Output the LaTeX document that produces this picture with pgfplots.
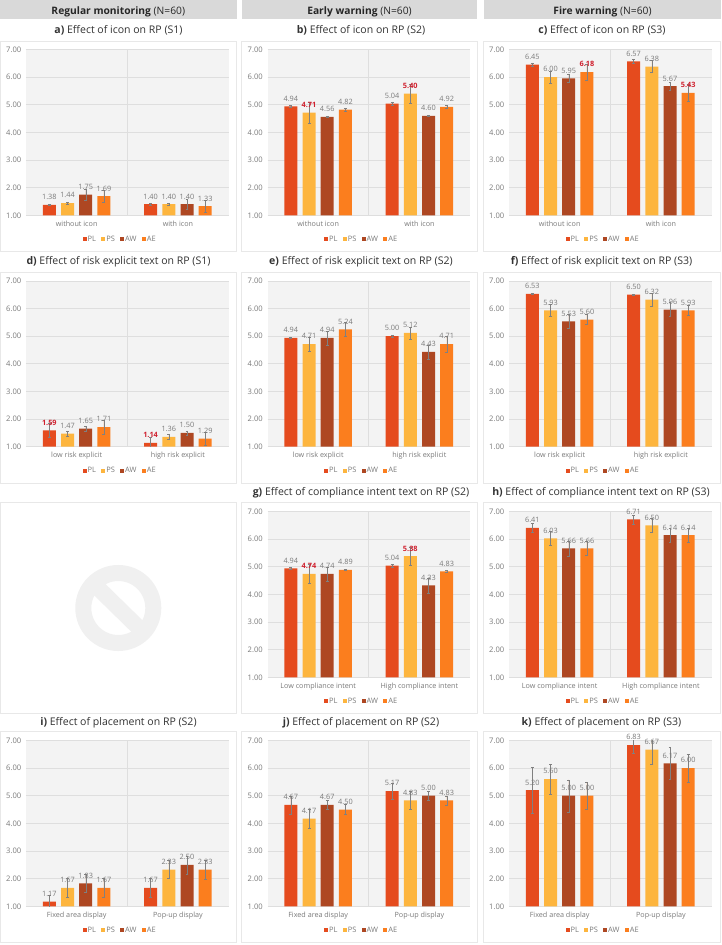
\documentclass[border=0pt]{standalone}
\usepackage{fontspec}
\setmainfont{Open Sans}
\usepackage{pgfplots}
\usepackage{pgfplotstable}
\pgfplotsset{compat=1.18}

\definecolor{cPL}{HTML}{E54B1E}
\definecolor{cPS}{HTML}{FDB53E}
\definecolor{cAW}{HTML}{AE4722}
\definecolor{cAE}{HTML}{FB7E1E}
\definecolor{hotred}{HTML}{D0202E}
\definecolor{txtgray}{HTML}{7A7A7A}
\definecolor{band}{HTML}{D9D9D9}
\definecolor{edgec}{HTML}{E8E8E8}
\definecolor{plotbg}{HTML}{F3F3F3}
\definecolor{gridc}{HTML}{DEDEDE}

\pgfplotstableread{
x PL PLe PS PSe AW AWe AE AEe
0 1.38 0.02 1.44 0.03 1.75 0.19 1.69 0.20
1 1.40 0.02 1.40 0.03 1.40 0.18 1.33 0.20
}\tabA
\pgfplotstableread{
x PL PLe PS PSe AW AWe AE AEe
0 4.94 0.03 4.71 0.37 4.56 0.02 4.82 0.05
1 5.04 0.05 5.40 0.35 4.60 0.02 4.92 0.06
}\tabB
\pgfplotstableread{
x PL PLe PS PSe AW AWe AE AEe
0 6.45 0.06 6.00 0.22 5.95 0.15 6.18 0.30
1 6.57 0.07 6.38 0.22 5.67 0.15 5.43 0.31
}\tabC
\pgfplotstableread{
x PL PLe PS PSe AW AWe AE AEe
0 1.59 0.25 1.47 0.10 1.65 0.08 1.71 0.25
1 1.14 0.20 1.36 0.08 1.50 0.07 1.29 0.25
}\tabD
\pgfplotstableread{
x PL PLe PS PSe AW AWe AE AEe
0 4.94 0.03 4.71 0.25 4.94 0.25 5.24 0.25
1 5.00 0.03 5.12 0.22 4.43 0.25 4.71 0.28
}\tabE
\pgfplotstableread{
x PL PLe PS PSe AW AWe AE AEe
0 6.53 0.02 5.93 0.22 5.53 0.25 5.60 0.18
1 6.50 0.02 6.32 0.22 5.96 0.25 5.93 0.18
}\tabF
\pgfplotstableread{
x PL PLe PS PSe AW AWe AE AEe
0 4.94 0.03 4.74 0.35 4.74 0.25 4.89 0.02
1 5.04 0.04 5.38 0.33 4.33 0.27 4.83 0.03
}\tabG
\pgfplotstableread{
x PL PLe PS PSe AW AWe AE AEe
0 6.41 0.17 6.03 0.25 5.66 0.28 5.66 0.25
1 6.71 0.17 6.50 0.25 6.14 0.25 6.14 0.27
}\tabH
\pgfplotstableread{
x PL PLe PS PSe AW AWe AE AEe
0 1.17 0.25 1.67 0.33 1.83 0.33 1.67 0.33
1 1.67 0.33 2.33 0.33 2.50 0.33 2.33 0.35
}\tabI
\pgfplotstableread{
x PL PLe PS PSe AW AWe AE AEe
0 4.67 0.33 4.17 0.33 4.67 0.17 4.50 0.18
1 5.17 0.30 4.83 0.33 5.00 0.17 4.83 0.17
}\tabJ
\pgfplotstableread{
x PL PLe PS PSe AW AWe AE AEe
0 5.20 0.82 5.60 0.54 5.00 0.58 5.00 0.50
1 6.83 0.30 6.67 0.54 6.17 0.58 6.00 0.50
}\tabK

\pgfplotsset{
  panel/.style={
    scale only axis, width=151.9pt, height=124.4pt,
    xmin=-0.5, xmax=1.5, ymin=1, ymax=7,
    ybar=3.9pt, bar width=9.75pt,
    xtick={0,1}, ytick={1,2,3,4,5,6,7},
    minor xtick={0.5}, xminorgrids, ymajorgrids,
    grid style={gridc, line width=0.5pt},
    minor grid style={gridc, line width=0.5pt},
    major tick length=0pt, minor tick length=0pt,
    axis line style={draw=none},
    axis background/.style={fill=plotbg},
    yticklabel style={font=\fontsize{5.7}{6}\selectfont, text=txtgray,
      /pgf/number format/fixed, /pgf/number format/fixed zerofill,
      /pgf/number format/precision=2, /pgf/number format/assume math mode=true},
    xticklabel style={font=\fontsize{5.4}{6}\selectfont, text=txtgray, yshift=-0.6pt},
    legend style={at={(axis description cs:0.463,-0.145)}, anchor=center,
      draw=none, fill=none, legend columns=4,
      font=\fontsize{5.6}{6}\selectfont, text=txtgray,
      /tikz/every even column/.append style={column sep=3.2pt},
      nodes={inner sep=0.8pt}},
    legend image code/.code={\fill[##1, draw=none] (0pt,-1.4pt) rectangle (2.9pt,1.4pt);},
  },
  barstyle/.style={
    fill=#1, draw=none,
    point meta=y,
    nodes near coords,
    nodes near coords style={/pgf/number format/fixed, /pgf/number format/fixed zerofill,
      /pgf/number format/precision=2, /pgf/number format/assume math mode=true,
      font=\fontsize{5.5}{6}\selectfont, text=txtgray, inner sep=0pt, yshift=3.6pt},
  },
  barerr/.style={
    error bars/.cd, y dir=both, y explicit,
    error bar style={draw=black!50, line width=0.3pt},
    error mark options={rotate=90, mark size=1.1pt, draw=black!50, line width=0.3pt},
  },
  % red bold labels, whole series at once
  hotlabels/.style={
    nodes near coords style={text=hotred, font=\fontsize{5.5}{6}\selectfont\bfseries},
  },
  plain/.style={},
}

% #1 plot left px, #2 plot bottom px, #3 table, #4 #5 group names, #6 to #9 style of each series' labels
\newcommand{\panel}[9]{
  \begin{axis}[panel, at={(#1*0.75pt,-#2*0.75pt)}, anchor=south west,
      xticklabels={#4,#5}]
    \addplot[barstyle=cPL, #6, barerr] table[x=x,y=PL,y error=PLe] {#3};
    \addplot[barstyle=cPS, #7, barerr] table[x=x,y=PS,y error=PSe] {#3};
    \addplot[barstyle=cAW, #8, barerr] table[x=x,y=AW,y error=AWe] {#3};
    \addplot[barstyle=cAE, #9, barerr] table[x=x,y=AE,y error=AEe] {#3};
    \legend{PL,PS,AW,AE}
  \end{axis}
}

\begin{document}
\begin{tikzpicture}[x=0.75pt,y=-0.75pt]
  \fill[white] (0,0) rectangle (721,945);
  \useasboundingbox (0,0) rectangle (721,945);

  % header bands
  \fill[band] (0,0) rectangle (236.7,19);
  \fill[band] (242,0) rectangle (477,19);
  \fill[band] (484,0) rectangle (721,19);
  \tikzset{head/.style={font=\fontsize{7.7}{9}\selectfont, text=black!85, inner sep=0pt, anchor=center},
    ttl/.style={font=\fontsize{7.9}{9}\selectfont, text=black!80, inner sep=0pt, anchor=center}}
  \node[head] at (118.3,12) {\textbf{Regular monitoring} (N=60)};
  \node[head] at (359.5,12) {\textbf{Early warning} (N=60)};
  \node[head] at (602.5,12) {\textbf{Fire warning} (N=60)};

  % cards
  \foreach \xa/\xb in {0.5/236.7,241.7/477,483.7/720.5}{
    \draw[edgec, line width=0.6pt] (\xa,41) rectangle (\xb,251.3);
    \draw[edgec, line width=0.6pt] (\xa,272.7) rectangle (\xb,483.3);
    \draw[edgec, line width=0.6pt] (\xa,502.7) rectangle (\xb,713.3);
    \draw[edgec, line width=0.6pt] (\xa,731.7) rectangle (\xb,942);
  }

  % titles
  \node[ttl] at (118.5,30.5) {\textbf{a)} Effect of icon on RP (S1)};
  \node[ttl] at (361,30.5) {\textbf{b)} Effect of icon on RP (S2)};
  \node[ttl] at (602,30.5) {\textbf{c)} Effect of icon on RP (S3)};
  \node[ttl] at (118.5,262) {\textbf{d)} Effect of risk explicit text on RP (S1)};
  \node[ttl] at (361,262) {\textbf{e)} Effect of risk explicit text on RP (S2)};
  \node[ttl] at (601.5,262) {\textbf{f)} Effect of risk explicit text on RP (S3)};
  \node[ttl] at (361,492.7) {\textbf{g)} Effect of compliance intent text on RP (S2)};
  \node[ttl] at (601,492.7) {\textbf{h)} Effect of compliance intent text on RP (S3)};
  \node[ttl] at (118.5,722.5) {\textbf{i)} Effect of placement on RP (S2)};
  \node[ttl] at (361,722.5) {\textbf{j)} Effect of placement on RP (S2)};
  \node[ttl] at (601.5,722.5) {\textbf{k)} Effect of placement on RP (S3)};

  % empty slot: prohibition sign
  \draw[black!6, line width=12pt] (118.3,608) circle (35);
  \draw[black!6, line width=12pt] (94,584) -- (143,632);

  \panel{26}{215.3}{\tabA}{without icon}{with icon}{plain}{plain}{plain}{plain}
  \panel{267.5}{215.3}{\tabB}{without icon}{with icon}{plain}{hotlabels}{plain}{plain}
  \panel{509}{215.3}{\tabC}{without icon}{with icon}{plain}{plain}{plain}{hotlabels}
  \panel{26}{446.7}{\tabD}{low risk explicit}{high risk explicit}{hotlabels}{plain}{plain}{plain}
  \panel{267.5}{446.7}{\tabE}{low risk explicit}{high risk explicit}{plain}{plain}{plain}{plain}
  \panel{509}{446.7}{\tabF}{low risk explicit}{high risk explicit}{plain}{plain}{plain}{plain}
  \panel{267.5}{677.3}{\tabG}{Low compliance intent}{High compliance intent}{plain}{hotlabels}{plain}{plain}
  \panel{509}{677.3}{\tabH}{Low compliance intent}{High compliance intent}{plain}{plain}{plain}{plain}
  \panel{26}{906.3}{\tabI}{Fixed area display}{Pop-up display}{plain}{plain}{plain}{plain}
  \panel{267.5}{906.3}{\tabJ}{Fixed area display}{Pop-up display}{plain}{plain}{plain}{plain}
  \panel{509}{906.3}{\tabK}{Fixed area display}{Pop-up display}{plain}{plain}{plain}{plain}
\end{tikzpicture}
\end{document}
